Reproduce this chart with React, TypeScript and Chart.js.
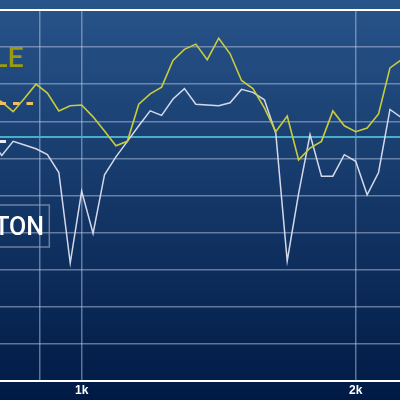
import { useEffect, useRef } from "react";
import { Chart, registerables } from "chart.js";

Chart.register(...registerables);

// Frequencies (Hz), 1/24-octave points
const FREQS = [
  793.7, 817.0, 840.9, 865.5, 890.9, 917.0, 943.9, 971.5,
  1000, 1029.3, 1059.5, 1090.5, 1122.5, 1155.4, 1189.2, 1224.1, 1259.9, 1296.8,
  1334.8, 1373.9, 1414.2, 1455.6, 1498.3, 1542.2, 1587.4, 1633.9, 1681.8, 1731.1,
  1781.8, 1834.0, 1887.7, 1943.1, 2000, 2058.6, 2118.9, 2181.0, 2244.9, 2310.7,
];

// Yellow response (dB)
const YELLOW = [
  88.5, 87.6, 86.3, 88.1, 90.0, 88.8, 86.4, 87.1,
  87.2, 85.6, 83.7, 81.7, 82.3, 87.3, 88.7, 89.6, 93.2, 94.7,
  95.4, 93.3, 96.2, 94.1, 90.5, 89.4, 86.8, 83.6, 85.7, 79.8,
  81.4, 82.3, 86.4, 84.4, 83.6, 84.1, 86.0, 92.2, 93.3, 93.9,
];

// White response (dB)
const WHITE = [
  82.5, 80.4, 82.3, 81.8, 81.3, 80.5, 78.1, 65.9,
  75.6, 69.9, 77.8, 80.2, 82.3, 84.4, 86.4, 85.8, 88.0, 89.4,
  87.3, 87.2, 87.1, 87.5, 89.3, 88.9, 87.9, 83.4, 66.2, 75.3,
  83.2, 77.6, 77.6, 80.5, 79.6, 75.1, 78.1, 86.6, 85.5, 85.8,
];

// Reference level (dB)
const REF_LEVEL = 82.9;

// Axis
const X_MIN = 813.4;
const X_MAX = 2237;
const X_GRID = [900, 1000, 2000];
const X_TICK_LABELS = ["", "1k", "2k"];
const Y_MIN = 50;
const Y_MAX = 100;
const Y_STEP = 5;

// Legend fragments
const LEGEND_TITLE = "LE";
const LEGEND_BOX_TEXT = "TON";

const GRID = "rgba(185,200,228,0.5)";

const bgPlugin = {
  id: "bg",
  beforeDraw(chart: any) {
    const { ctx, width, height } = chart;
    const g = ctx.createLinearGradient(0, 0, 0, height);
    g.addColorStop(0, "#28548a");
    g.addColorStop(1, "#001a45");
    ctx.save();
    ctx.fillStyle = g;
    ctx.fillRect(0, 0, width, height);
    ctx.restore();
  },
};

const legendPlugin = {
  id: "legendFrag",
  afterDraw(chart: any) {
    const ctx = chart.ctx as CanvasRenderingContext2D;
    ctx.save();
    // title
    ctx.fillStyle = "#9c9a12";
    ctx.font = "500 28px Roboto";
    ctx.textAlign = "right";
    ctx.textBaseline = "alphabetic";
    ctx.fillText(LEGEND_TITLE, 23.5, 67);
    // orange dashed sample
    ctx.lineWidth = 3;
    ctx.setLineDash([6.5, 7]);
    ctx.strokeStyle = "#efbd62";
    ctx.beginPath();
    ctx.moveTo(33, 103.5);
    ctx.lineTo(-30, 103.5);
    ctx.stroke();
    // white dashed sample
    ctx.strokeStyle = "#eceef4";
    ctx.beginPath();
    ctx.moveTo(6, 141.5);
    ctx.lineTo(-30, 141.5);
    ctx.stroke();
    ctx.setLineDash([]);
    // box
    ctx.strokeStyle = "rgba(150,160,185,0.7)";
    ctx.lineWidth = 1.5;
    ctx.strokeRect(-60, 205, 109.3, 42);
    ctx.fillStyle = "#ffffff";
    ctx.font = "500 25px Roboto";
    ctx.fillText(LEGEND_BOX_TEXT, 44, 235);
    ctx.restore();
  },
};

export default function App() {
  const ref = useRef<HTMLCanvasElement>(null);
  useEffect(() => {
    if (!ref.current) return;
    const chart = new Chart(ref.current, {
      type: "line",
      data: {
        datasets: [
          {
            data: FREQS.map((f, i) => ({ x: f, y: WHITE[i] })),
            borderColor: "rgba(222,226,240,0.95)",
            borderWidth: 1.5,
            pointRadius: 0,
            tension: 0,
            order: 2,
          },
          {
            data: FREQS.map((f, i) => ({ x: f, y: YELLOW[i] })),
            borderColor: "#c9cd3c",
            borderWidth: 1.6,
            pointRadius: 0,
            tension: 0,
            order: 1,
          },
          {
            data: [
              { x: FREQS[0], y: REF_LEVEL },
              { x: FREQS[FREQS.length - 1], y: REF_LEVEL },
            ],
            borderColor: "#4aaec6",
            borderWidth: 2,
            pointRadius: 0,
            order: 3,
          },
        ],
      },
      options: {
        animation: false,
        responsive: false,
        maintainAspectRatio: false,
        layout: { padding: { top: 10, left: 0, right: 0, bottom: 0 } },
        plugins: { legend: { display: false }, tooltip: { enabled: false } },
        scales: {
          x: {
            type: "logarithmic",
            min: X_MIN,
            max: X_MAX,
            afterBuildTicks: (s: any) => {
              s.ticks = X_GRID.map((v) => ({ value: v }));
            },
            afterFit: (s: any) => {
              s.height = 19;
            },
            ticks: {
              autoSkip: false,
              maxRotation: 0,
              padding: 2,
              color: "#ffffff",
              font: { family: "Liberation Sans", size: 12, weight: "bold" },
              callback: (_v: any, i: number) => X_TICK_LABELS[i],
            },
            grid: { color: GRID, lineWidth: 1.5, drawTicks: false },
            border: { display: true, color: "#ffffff", width: 2 },
          },
          y: {
            min: Y_MIN,
            max: Y_MAX,
            ticks: { display: false, stepSize: Y_STEP },
            grid: {
              drawTicks: false,
              color: (c: any) =>
                c.tick && (c.tick.value === Y_MAX || c.tick.value === Y_MIN) ? "#ffffff" : GRID,
              lineWidth: (c: any) =>
                c.tick && (c.tick.value === Y_MAX || c.tick.value === Y_MIN) ? 2 : 1.5,
            },
            border: { display: false },
          },
        },
      },
      plugins: [bgPlugin, legendPlugin],
    });
    return () => chart.destroy();
  }, []);
  return (
    <div style={{ position: "fixed", left: 0, top: 0, width: 400, height: 400 }}>
      <canvas ref={ref} width={400} height={400} style={{ display: "block" }} />
    </div>
  );
}
